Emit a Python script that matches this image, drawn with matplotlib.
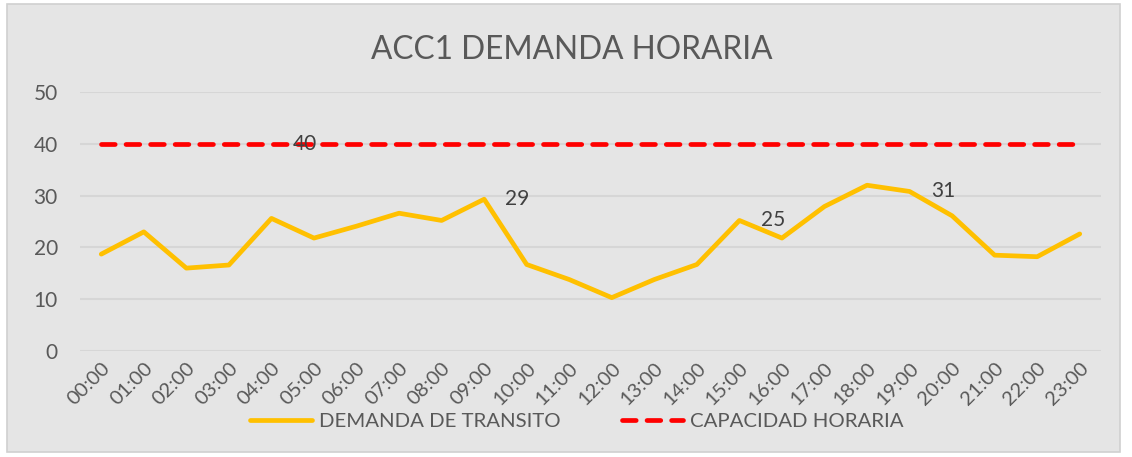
import matplotlib
matplotlib.use("Agg")
import matplotlib.pyplot as plt
from matplotlib.lines import Line2D
from matplotlib.patches import Rectangle

hours = ["00:00", "01:00", "02:00", "03:00", "04:00", "05:00", "06:00", "07:00",
         "08:00", "09:00", "10:00", "11:00", "12:00", "13:00", "14:00", "15:00",
         "16:00", "17:00", "18:00", "19:00", "20:00", "21:00", "22:00", "23:00"]
demanda = [18.7, 23.0, 16.0, 16.6, 25.6, 21.8, 24.1, 26.6, 25.2, 29.3, 16.7, 13.8,
           10.3, 13.8, 16.7, 25.2, 21.8, 27.9, 32.0, 30.8, 26.1, 18.5, 18.2, 22.6]
capacidad = [40] * 24
demanda_labels = {9: "29", 15: "25", 19: "31"}
capacidad_labels = {4: "40"}

title = "ACC1 DEMANDA HORARIA"
series_names = ["DEMANDA DE TRANSITO", "CAPACIDAD HORARIA"]

FONT = "Lato"
TXT = "#595959"
BG = "#e5e5e5"
YEL = "#FFC000"
RED = "#FF0000"

W, H = 1132, 457
fig = plt.figure(figsize=(W / 100, H / 100), dpi=100)
fig.patch.set_facecolor("white")
fig.patches.append(Rectangle((7 / W, 1 - 452 / H), (1120 - 7) / W, (452 - 4) / H,
                             transform=fig.transFigure, facecolor=BG,
                             edgecolor="#d0d0d0", linewidth=1.2, zorder=-10))

ax = fig.add_axes([80 / W, 1 - 351 / H, (1101 - 80) / W, (351 - 92) / H])
ax.set_facecolor("none")
x = list(range(len(hours)))

ax.set_xlim(-0.5, len(hours) - 0.5)
ax.set_ylim(0, 50)
ax.set_yticks([0, 10, 20, 30, 40, 50])
ax.yaxis.grid(True, color="#d6d6d6", linewidth=1.5)
ax.set_axisbelow(True)
for s in ax.spines.values():
    s.set_visible(False)
ax.tick_params(axis="both", length=0, colors=TXT)
ax.tick_params(axis="y", pad=16, labelsize=15)
ax.set_xticks(x)
ax.set_xticklabels(hours, rotation=45, ha="right", rotation_mode="anchor",
                   fontsize=14.5, family=FONT, color=TXT)
for lab in ax.get_yticklabels():
    lab.set_family(FONT)
ax.tick_params(axis="x", pad=6)

lw = 3.4
ax.plot(x, demanda, color=YEL, linewidth=lw, solid_joinstyle="round",
        solid_capstyle="round", zorder=3)
ax.plot(x, capacidad, color=RED, linewidth=lw, dashes=(2.9, 2.3),
        dash_capstyle="round", zorder=3)

for i, t in demanda_labels.items():
    ax.annotate(t, (x[i], demanda[i]), xytext=(24, 0), textcoords="offset points",
                ha="center", va="center", fontsize=15, family=FONT, color="#404040",
                zorder=5)
for i, t in capacidad_labels.items():
    ax.annotate(t, (x[i], capacidad[i]), xytext=(24, 0), textcoords="offset points",
                ha="center", va="center", fontsize=15, family=FONT, color="#404040",
                zorder=5)

fig.text(572 / W, 1 - 50 / H, title, ha="center", va="center", fontsize=22.8,
         family=FONT, color=TXT)

handles = [Line2D([], [], color=YEL, linewidth=lw, solid_capstyle="round"),
           Line2D([], [], color=RED, linewidth=lw, dashes=(2.9, 2.3),
                  dash_capstyle="round")]
leg = fig.legend(handles, series_names, loc="center",
                 bbox_to_anchor=(577 / W, 1 - 421 / H),
                 ncol=2, frameon=False, handlelength=3.0,
                 columnspacing=3.0, handletextpad=0.35, borderpad=0,
                 prop={"family": FONT, "size": 14.7})
for t in leg.get_texts():
    t.set_color(TXT)

fig.savefig("out.png", dpi=100, facecolor=fig.get_facecolor())
